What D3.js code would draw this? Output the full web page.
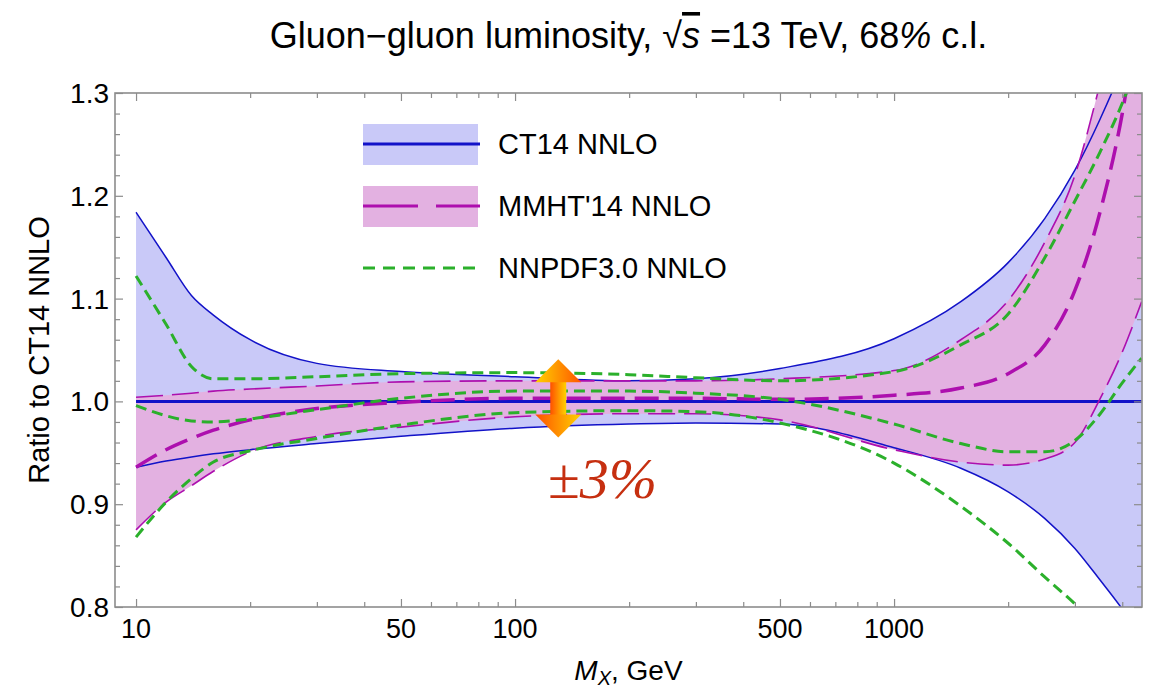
<!DOCTYPE html>
<html>
<head>
<meta charset="utf-8">
<script src="https://cdn.jsdelivr.net/npm/d3@7"></script>
<style>
  body { margin: 0; background: #fff; }
  svg text { font-family: "Liberation Sans", Arial, sans-serif; }
</style>
</head>
<body>
<div id="graph"></div>
<script>
//******** data ********//
var mass   = [10, 12, 14, 16, 20, 30, 50, 100, 200, 300, 500, 1000, 1500, 2000, 2500, 3000, 3500, 4000, 4500];
var ct14Up = [1.184, 1.140, 1.103, 1.084, 1.060, 1.037, 1.029, 1.024, 1.020, 1.022, 1.032, 1.061, 1.097, 1.135, 1.178, 1.225, 1.275, 1.325, 1.380];
var ct14Lo = [0.936, 0.942, 0.946, 0.949, 0.953, 0.959, 0.966, 0.974, 0.978, 0.979, 0.978, 0.955, 0.935, 0.912, 0.886, 0.857, 0.826, 0.798, 0.770];
var ct14Ce = [1, 1, 1, 1, 1, 1, 1, 1, 1, 1, 1, 1, 1, 1, 1, 1, 1, 1, 1];
var mmhtUp = [1.004, 1.006, 1.008, 1.010, 1.012, 1.015, 1.019, 1.020, 1.020, 1.020, 1.022, 1.030, 1.060, 1.098, 1.155, 1.220, 1.310, 1.400, 1.500];
var mmhtLo = [0.875, 0.902, 0.918, 0.932, 0.951, 0.966, 0.975, 0.985, 0.988, 0.988, 0.982, 0.953, 0.941, 0.938, 0.944, 0.960, 1.003, 1.048, 1.097];
var mmhtCe = [0.936, 0.953, 0.964, 0.972, 0.982, 0.993, 0.999, 1.003, 1.003, 1.003, 1.002, 1.006, 1.013, 1.027, 1.055, 1.108, 1.185, 1.280, 1.400];
var nnUp   = [1.122, 1.075, 1.034, 1.022, 1.022, 1.024, 1.027, 1.028, 1.026, 1.023, 1.020, 1.029, 1.055, 1.085, 1.140, 1.195, 1.243, 1.290, 1.340];
var nnCe   = [0.996, 0.986, 0.981, 0.980, 0.983, 0.992, 1.003, 1.010, 1.010, 1.008, 1.002, 0.978, 0.959, 0.951, 0.951, 0.962, 0.988, 1.018, 1.042];
var nnLo   = [0.868, 0.902, 0.925, 0.941, 0.952, 0.964, 0.977, 0.989, 0.991, 0.990, 0.979, 0.940, 0.898, 0.862, 0.829, 0.803, 0.778, 0.755, 0.730];

var xMajor = [10, 50, 100, 500, 1000];
var xMinor = [20, 30, 40, 60, 70, 80, 90, 200, 300, 400, 600, 700, 800, 900, 2000, 3000, 4000];
var yMajor = [0.8, 0.9, 1.0, 1.1, 1.2, 1.3];
var yMinor = [0.82, 0.84, 0.86, 0.88, 0.92, 0.94, 0.96, 0.98, 1.02, 1.04, 1.06, 1.08, 1.12, 1.14, 1.16, 1.18, 1.22, 1.24, 1.26, 1.28];

var legendNames = ["CT14 NNLO", "MMHT'14 NNLO", "NNPDF3.0 NNLO"];

// arrow + label annotation (data units)
var arrowMass = 130, arrowTop = 1.041, arrowBottom = 0.965;
var noteMass = 170, noteVal = 0.906;

//******** layout ********//
var width = 1154, height = 690;
var pLeft = 115, pRight = 1142, pTop = 93, pBottom = 607;

var blue = "#1212c8", blueFill = "#c9c9f8";
var mag = "#ad0fae", magFill = "#e3b1e1";
var green = "#2bb02b";

var svg = d3.select('#graph').append('svg')
    .attr('width', width).attr('height', height);

var x = d3.scaleLog().domain([8.8, 4510]).range([pLeft, pRight]);
var y = d3.scaleLinear().domain([0.8, 1.3]).range([pBottom, pTop]);

var defs = svg.append('defs');
defs.append('clipPath').attr('id', 'clip')
  .append('rect').attr('x', pLeft).attr('y', pTop).attr('width', pRight - pLeft).attr('height', pBottom - pTop);

function pts(arr) { return mass.map(function(m, i) { return [m, arr[i]]; }); }

var line = d3.line().x(function(d) { return x(d[0]); }).y(function(d) { return y(d[1]); }).curve(d3.curveMonotoneX);
var band = function(lo, hi) {
  return d3.area()
    .x(function(d, i) { return x(mass[i]); })
    .y0(function(d, i) { return y(lo[i]); })
    .y1(function(d, i) { return y(hi[i]); })
    .curve(d3.curveMonotoneX)(mass);
};

var plot = svg.append('g').attr('clip-path', 'url(#clip)');

// bands
plot.append('path').attr('d', band(ct14Lo, ct14Up)).attr('fill', blueFill);
plot.append('path').attr('d', band(mmhtLo, mmhtUp)).attr('fill', magFill);

// CT14 lines
[ct14Up, ct14Lo].forEach(function(s) {
  plot.append('path').attr('d', line(pts(s))).attr('fill', 'none').attr('stroke', blue).attr('stroke-width', 1.5);
});
plot.append('path').attr('d', line(pts(ct14Ce))).attr('fill', 'none').attr('stroke', blue).attr('stroke-width', 3);

// MMHT lines
[mmhtUp, mmhtLo].forEach(function(s) {
  plot.append('path').attr('d', line(pts(s))).attr('fill', 'none').attr('stroke', mag)
    .attr('stroke-width', 1.6).attr('stroke-dasharray', '27,9');
});
plot.append('path').attr('d', line(pts(mmhtCe))).attr('fill', 'none').attr('stroke', mag)
  .attr('stroke-width', 3.5).attr('stroke-dasharray', '24,10');

// NNPDF lines
[nnUp, nnCe, nnLo].forEach(function(s) {
  plot.append('path').attr('d', line(pts(s))).attr('fill', 'none').attr('stroke', green)
    .attr('stroke-width', 3).attr('stroke-dasharray', '11,6');
});

//******** frame + ticks ********//
var frameColor = "#8c8c8c";
var axes = svg.append('g');
function tickAxis(axisFn, scale, values, size, transform) {
  var g = axes.append('g').attr('transform', transform)
    .call(axisFn(scale).tickValues(values).tickSize(-size).tickFormat(''));
  g.select('.domain').remove();
  g.selectAll('line').attr('stroke', frameColor).attr('stroke-width', 1.2);
}
tickAxis(d3.axisBottom, x, xMajor, 8, 'translate(0,' + pBottom + ')');
tickAxis(d3.axisBottom, x, xMinor, 5, 'translate(0,' + pBottom + ')');
tickAxis(d3.axisTop, x, xMajor, 8, 'translate(0,' + pTop + ')');
tickAxis(d3.axisTop, x, xMinor, 5, 'translate(0,' + pTop + ')');
tickAxis(d3.axisLeft, y, yMajor, 8, 'translate(' + pLeft + ',0)');
tickAxis(d3.axisLeft, y, yMinor, 5, 'translate(' + pLeft + ',0)');
tickAxis(d3.axisRight, y, yMajor, 8, 'translate(' + pRight + ',0)');
tickAxis(d3.axisRight, y, yMinor, 5, 'translate(' + pRight + ',0)');

axes.append('rect').attr('x', pLeft).attr('y', pTop).attr('width', pRight - pLeft).attr('height', pBottom - pTop)
  .attr('fill', 'none').attr('stroke', frameColor).attr('stroke-width', 1.6);

// tick labels
svg.append('g').selectAll('text').data(xMajor).enter().append('text')
  .attr('x', function(d) { return x(d); }).attr('y', pBottom + 31)
  .attr('text-anchor', 'middle').attr('font-size', 27).text(function(d) { return d; });
svg.append('g').selectAll('text').data(yMajor).enter().append('text')
  .attr('x', pLeft - 6).attr('y', function(d) { return y(d); }).attr('dy', '0.36em')
  .attr('text-anchor', 'end').attr('font-size', 28).text(function(d) { return d.toFixed(1); });

// axis titles
var xt = svg.append('text').attr('x', (pLeft + pRight) / 2).attr('y', 680)
  .attr('text-anchor', 'middle').attr('font-size', 28);
xt.append('tspan').attr('font-style', 'italic').text('M');
xt.append('tspan').attr('font-style', 'italic').attr('font-size', 20).attr('dy', 5).text('X');
xt.append('tspan').attr('dy', -5).text(', GeV');

svg.append('text').attr('transform', 'translate(49,' + ((pTop + pBottom) / 2) + ') rotate(-90)')
  .attr('text-anchor', 'middle').attr('font-size', 29).text('Ratio to CT14 NNLO');

// title
var tt = svg.append('text').attr('x', (pLeft + pRight) / 2).attr('y', 48)
  .attr('text-anchor', 'middle').attr('font-size', 36);
tt.append('tspan').text('Gluon\u2212gluon luminosity, \u221A');
tt.append('tspan').attr('font-style', 'italic').style('text-decoration', 'overline').text('s');
tt.append('tspan').text(' =13 TeV, 68');
tt.append('tspan').attr('font-style', 'italic').text('%');
tt.append('tspan').text(' c.l.');

//******** legend ********//
var lg = svg.append('g').attr('transform', 'translate(363,144)');
var rowGap = 62;
lg.append('rect').attr('x', 0).attr('y', -20).attr('width', 115).attr('height', 41).attr('fill', blueFill);
lg.append('line').attr('x1', 0).attr('x2', 117).attr('y1', 0).attr('y2', 0).attr('stroke', blue).attr('stroke-width', 3);
lg.append('rect').attr('x', 0).attr('y', rowGap - 20).attr('width', 115).attr('height', 41).attr('fill', magFill);
lg.append('line').attr('x1', 0).attr('x2', 117).attr('y1', rowGap).attr('y2', rowGap).attr('stroke', mag)
  .attr('stroke-width', 3).attr('stroke-dasharray', '55,18');
lg.append('line').attr('x1', 0).attr('x2', 117).attr('y1', 2 * rowGap).attr('y2', 2 * rowGap).attr('stroke', green)
  .attr('stroke-width', 3).attr('stroke-dasharray', '12,8');
lg.selectAll('text.lab').data(legendNames).enter().append('text')
  .attr('x', 135).attr('y', function(d, i) { return i * rowGap; }).attr('dy', '0.36em')
  .attr('font-size', 29).text(function(d) { return d; });

//******** ±3% annotation ********//
var grad = defs.append('linearGradient').attr('id', 'headUp').attr('x1', 0).attr('x2', 1).attr('y1', 0).attr('y2', 0);
grad.append('stop').attr('offset', '0%').attr('stop-color', '#ffd200');
grad.append('stop').attr('offset', '100%').attr('stop-color', '#ff5500');
var grad2 = defs.append('linearGradient').attr('id', 'headDn').attr('x1', 0).attr('x2', 1).attr('y1', 0).attr('y2', 0);
grad2.append('stop').attr('offset', '0%').attr('stop-color', '#ff5000');
grad2.append('stop').attr('offset', '100%').attr('stop-color', '#ffd200');

var ax = x(arrowMass), ay1 = y(arrowTop), ay2 = y(arrowBottom);
var hw = 23, hh = 23, sw = 8;
var arr = svg.append('g');
arr.append('rect').attr('x', ax - sw).attr('y', ay1 + hh - 1).attr('width', 2 * sw).attr('height', ay2 - ay1 - 2 * hh + 2)
  .attr('fill', 'url(#headDn)');
arr.append('path').attr('d', 'M' + ax + ',' + ay1 + 'L' + (ax + hw) + ',' + (ay1 + hh) + 'L' + (ax - hw) + ',' + (ay1 + hh) + 'Z')
  .attr('fill', 'url(#headUp)');
arr.append('path').attr('d', 'M' + ax + ',' + ay2 + 'L' + (ax + hw) + ',' + (ay2 - hh) + 'L' + (ax - hw) + ',' + (ay2 - hh) + 'Z')
  .attr('fill', 'url(#headDn)');

svg.append('text').attr('x', x(noteMass)).attr('y', y(noteVal)).attr('text-anchor', 'middle')
  .style('font-family', '"Liberation Serif", "Times New Roman", serif')
  .attr('font-style', 'italic').attr('font-size', 58).attr('fill', '#c62f10').text('\u00B13%');
</script>
</body>
</html>
